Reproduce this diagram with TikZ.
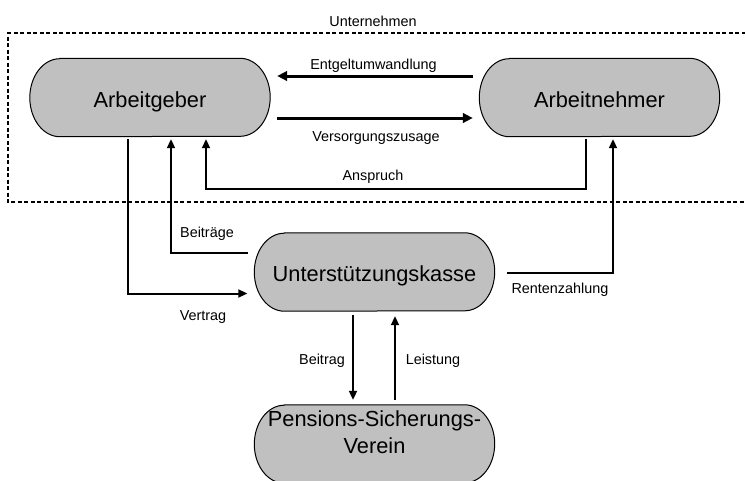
\documentclass[tikz,border=0pt]{standalone}
\usepackage{fontspec}
\setmainfont{Liberation Sans}
\usetikzlibrary{arrows.meta,calc,backgrounds}
\definecolor{pillgray}{HTML}{C0C0C0}

\begin{document}
\begin{tikzpicture}[x=1pt,y=-1pt,
  pill/.style={minimum width=240pt,minimum height=78pt,inner sep=0pt,
    text height=19pt,text depth=0pt,align=center,
    font=\fontsize{21.8}{27}\selectfont},
  pilledge/.style={draw=black,line width=1pt,fill=pillgray},
  lbl/.style={anchor=base,inner sep=0pt,font=\fontsize{14.4}{17}\selectfont},
  flow/.style={line width=2pt,-{Triangle[length=9pt,width=8pt]}},
  heavy/.style={line width=3pt,-{Triangle[length=10pt,width=9.5pt]}},
  frame/.style={line width=1.4pt,dash pattern=on 4pt off 2.5pt}]
\useasboundingbox (0,0) rectangle (745,480);

% company frame (open to the right)
\draw[frame] (752,33) -- (8,33) -- (8,202) -- (752,202);
\node[lbl] (unt) at (373,26) {Unternehmen};

% parties
\node[pill] (ag)  at (150,97.5)  {Arbeitgeber};
\node[pill] (an)  at (599.5,97.5) {Arbeitnehmer};
\node[pill] (uk)  at (374.5,272) {Unterstützungskasse};
\node[pill] (psv) at (374.5,444) {Pensions-Sicherungs-\\Verein};

% pill outlines with elliptic ends, behind the text
\begin{scope}[on background layer]
\foreach \n in {ag,an,uk,psv}
  \draw[pilledge] ($(\n.north west)+(30,0)$) -- ($(\n.north east)+(-30,0)$)
    arc[start angle=90,end angle=-90,x radius=30pt,y radius=39pt]
    -- ($(\n.south west)+(30,0)$)
    arc[start angle=270,end angle=90,x radius=30pt,y radius=39pt] -- cycle;
\end{scope}

% flows between employer and employee
\draw[heavy] ($(an.west)+(-6.5,-21.5)$) -- ($(ag.east)+(7,-21.5)$);
\node[lbl] (l1) at (373.5,69) {Entgeltumwandlung};
\draw[heavy] ($(ag.east)+(7,20.5)$) -- ($(an.west)+(-6.5,20.5)$);
\node[lbl] (l2) at (376,141) {Versorgungszusage};
\draw[flow] ($(an.south)+(-13.5,2.5)$) -- ++(0,50) -| ($(ag.south)+(56,2.5)$);
\node[lbl] (l3) at (373,180) {Anspruch};

% flows with the support fund
\draw[flow] ($(ag.south)+(-22,2.5)$) |- ($(uk.west)+(-7,21.5)$);
\node[lbl] (l4) at (203,320) {Vertrag};
\draw[flow] ($(uk.west)+(-6.5,-19)$) -| ($(ag.south)+(21,2.5)$);
\node[lbl] (l5) at (207,237) {Beiträge};
\draw[flow] ($(uk.east)+(12.5,1)$) -| ($(an.south)+(13.5,2.5)$);
\node[lbl] (l6) at (560,293) {Rentenzahlung};

% flows with the insurance association
\draw[flow] ($(uk.south)+(-21.5,4)$) -- ($(psv.north)+(-21.5,-5)$);
\node[lbl] (l7) at (322,364) {Beitrag};
\draw[flow] ($(psv.north)+(20.5,-5)$) -- ($(uk.south)+(20.5,5)$);
\node[lbl] (l8) at (433,364) {Leistung};
\end{tikzpicture}
\end{document}
